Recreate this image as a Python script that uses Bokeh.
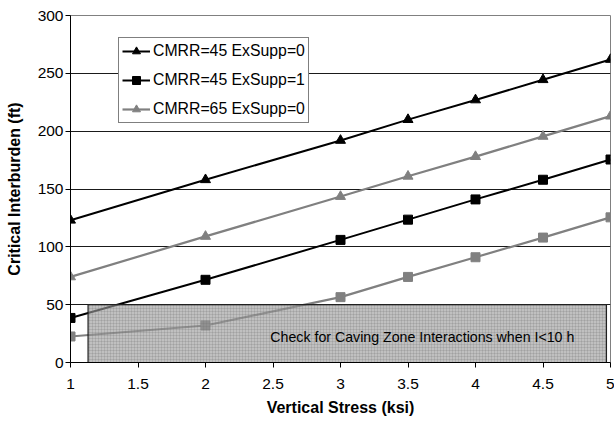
from bokeh.plotting import figure
from bokeh.models import Range1d, FixedTicker, Legend, LegendItem
from bokeh.core.properties import value
from bokeh.embed import file_html
from bokeh.resources import INLINE

# ---- data ----
stress = [1, 2, 3, 3.5, 4, 4.5, 5]
cmrr45_ex0 = [123, 158, 192, 210, 227, 244.5, 262]
cmrr45_ex1 = [38.5, 71.5, 106, 123.5, 141, 158, 175.5]
cmrr65_ex0 = [74, 109, 143.5, 161, 178, 195.5, 213]
cmrr65_ex1 = [22.5, 32, 56.5, 74, 91, 108, 125.5]

label_45_0 = "CMRR=45 ExSupp=0"
label_45_1 = "CMRR=45 ExSupp=1"
label_65_0 = "CMRR=65 ExSupp=0"

x_ticks = [1, 1.5, 2, 2.5, 3, 3.5, 4, 4.5, 5]
y_ticks = [0, 50, 100, 150, 200, 250, 300]

zone_left = [1.13]
zone_right = [4.97]
zone_bottom = [0]
zone_top = [50]
zone_note = ["Check for Caving Zone Interactions when I<10 h"]
note_x = [2.48]
note_y = [22]

FONT = "Liberation Sans"
GRAY = "#808080"

p = figure(width=614, height=421, output_backend="svg", toolbar_location=None,
           x_range=Range1d(1, 5), y_range=Range1d(0, 300),
           min_border_left=70, min_border_right=4, min_border_top=15, min_border_bottom=59)

p.background_fill_color = "white"
p.border_fill_color = "white"
p.outline_line_color = GRAY
p.outline_line_width = 1

# axes
p.xaxis.ticker = FixedTicker(ticks=x_ticks)
p.yaxis.ticker = FixedTicker(ticks=y_ticks)
for ax in (p.xaxis[0], p.yaxis[0]):
    ax.axis_line_color = "black"
    ax.major_tick_line_color = "black"
    ax.major_tick_out = 5
    ax.major_tick_in = 0
    ax.minor_tick_line_color = None
    ax.major_label_text_font = FONT
    ax.major_label_text_font_size = "15.5px"
    ax.major_label_text_color = "black"
    ax.axis_label_text_font = FONT
    ax.axis_label_text_font_size = "16px"
    ax.axis_label_text_font_style = "bold"
    ax.axis_label_text_color = "black"

p.xaxis.axis_label = "Vertical Stress (ksi)"
p.yaxis.axis_label = "Critical Interburden (ft)"
p.xaxis.major_label_standoff = 11
p.xaxis.axis_label_standoff = 7
p.yaxis.major_label_standoff = 2
p.yaxis.axis_label_standoff = 12

p.xgrid.grid_line_color = None
p.ygrid.grid_line_color = "#1a1a1a"
p.ygrid.grid_line_width = 1

# series
l1 = p.line(stress, cmrr45_ex0, line_color="black", line_width=2)
m1 = p.scatter(stress, cmrr45_ex0, marker="triangle", size=10, fill_color="black", line_color="black")
l2 = p.line(stress, cmrr45_ex1, line_color="black", line_width=2)
m2 = p.scatter(stress, cmrr45_ex1, marker="square", size=9, fill_color="black", line_color="black")
l3 = p.line(stress, cmrr65_ex0, line_color=GRAY, line_width=2.2)
m3 = p.scatter(stress, cmrr65_ex0, marker="triangle", size=10, fill_color=GRAY, line_color=GRAY)
l4 = p.line(stress, cmrr65_ex1, line_color=GRAY, line_width=2.2)
m4 = p.scatter(stress, cmrr65_ex1, marker="square", size=9, fill_color=GRAY, line_color=GRAY)

# caving zone box
p.quad(left=zone_left, right=zone_right, bottom=zone_bottom, top=zone_top,
       fill_color="#9a9a9a", fill_alpha=0.62,
       hatch_pattern="+", hatch_color="#707070", hatch_alpha=0.35, hatch_scale=3, hatch_weight=0.6,
       line_color="#202020", line_width=1.2)
p.text(x=note_x, y=note_y, text=zone_note, text_font=value(FONT), text_font_size="14.2px",
       text_baseline="middle", text_align="left", text_color="black")

legend = Legend(items=[
    LegendItem(label=label_45_0, renderers=[l1, m1]),
    LegendItem(label=label_45_1, renderers=[l2, m2]),
    LegendItem(label=label_65_0, renderers=[l3, m3]),
], location=(48, 239))
legend.label_text_font = FONT
legend.label_text_font_size = "15.8px"
legend.label_text_color = "black"
legend.border_line_color = "black"
legend.border_line_width = 1
legend.background_fill_color = "white"
legend.background_fill_alpha = 1
legend.padding = 3
legend.spacing = 9
legend.margin = 0
legend.label_height = 20
legend.glyph_height = 20
legend.glyph_width = 28
legend.label_standoff = 3
p.add_layout(legend, "center")

open("out.html", "w").write(file_html(p, INLINE))
